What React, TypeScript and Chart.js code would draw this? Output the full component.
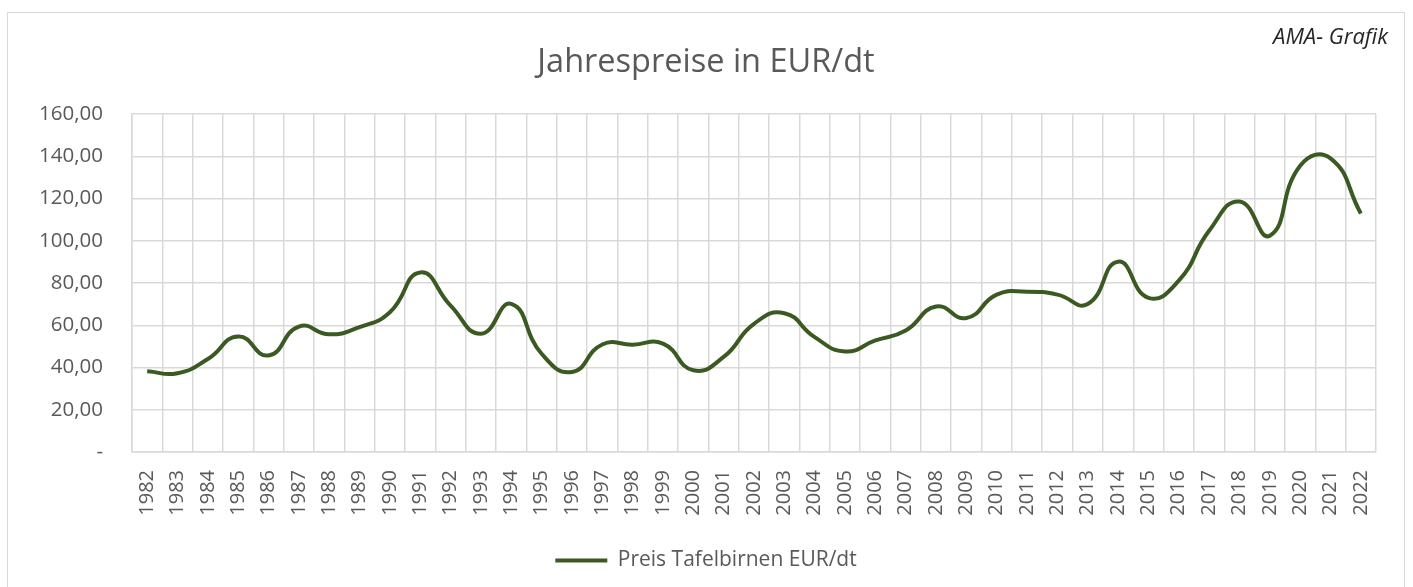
import React, { useEffect, useRef } from "react";
import { Chart, registerables } from "chart.js";

Chart.register(...registerables);

const years: string[] = [
  "1982","1983","1984","1985","1986","1987","1988","1989","1990","1991",
  "1992","1993","1994","1995","1996","1997","1998","1999","2000","2001",
  "2002","2003","2004","2005","2006","2007","2008","2009","2010","2011",
  "2012","2013","2014","2015","2016","2017","2018","2019","2020","2021","2022",
];

const prices: number[] = [
  38.2, 37.3, 44.0, 54.7, 45.7, 59.4, 55.7, 59.1, 66.2, 85.0,
  69.3, 56.0, 70.1, 46.5, 37.9, 50.9, 50.8, 51.3, 38.7, 45.0,
  60.7, 65.7, 54.4, 47.6, 52.8, 57.5, 68.9, 63.4, 74.5, 75.9,
  74.5, 70.1, 90.1, 73.0, 81.1, 104.7, 118.6, 102.4, 135.5, 139.0, 112.9,
];

const seriesName = "Preis Tafelbirnen EUR/dt";
const titleText = "Jahrespreise in EUR/dt";
const sourceText = "AMA- Grafik";

const FONT = "'Open Sans', sans-serif";
const TEXT = "#595959";
const GRID = "#d9d9d9";
const LINE = "#3a5a22";

const sourcePlugin = {
  id: "sourceLabel",
  afterDraw(chart: any) {
    const ctx = chart.ctx;
    ctx.save();
    ctx.font = `italic 22px ${FONT}`;
    ctx.fillStyle = "#262626";
    ctx.textAlign = "right";
    ctx.textBaseline = "middle";
    ctx.fillText(sourceText, chart.width - 16, 25);
    ctx.restore();
  },
};

export default function App() {
  const ref = useRef<HTMLCanvasElement | null>(null);

  useEffect(() => {
    if (!ref.current) return;
    const chart = new Chart(ref.current, {
      type: "line",
      data: {
        labels: years,
        datasets: [
          {
            label: seriesName,
            data: prices,
            borderColor: LINE,
            backgroundColor: LINE,
            borderWidth: 4,
            pointRadius: 0,
            pointHoverRadius: 0,
            tension: 0.5,
            fill: false,
          },
        ],
      },
      options: {
        animation: false,
        responsive: false,
        maintainAspectRatio: false,
        layout: { padding: { left: 0, right: 0, top: 0, bottom: 6 } },
        plugins: {
          tooltip: { enabled: false },
          title: {
            display: true,
            text: titleText,
            color: TEXT,
            font: { family: FONT, size: 32.5, weight: "normal" },
            padding: { top: 30, bottom: 32 },
          },
          legend: {
            display: true,
            position: "bottom",
            labels: {
              usePointStyle: true,
              pointStyle: "line",
              pointStyleWidth: 52,
              color: TEXT,
              font: { family: FONT, size: 21 },
              padding: 10,
            },
          },
        },
        scales: {
          x: {
            offset: true,
            grid: { display: true, offset: true, color: GRID, lineWidth: 1.5, drawTicks: false },
            border: { display: true, color: GRID, width: 1.5 },
            ticks: {
              color: TEXT,
              font: { family: FONT, size: 20 },
              minRotation: 90,
              maxRotation: 90,
              autoSkip: false,
              padding: 18,
            },
            afterFit(scale: any) {
              scale.height = 88;
            },
          },
          y: {
            min: 0,
            max: 160,
            grid: { color: GRID, lineWidth: 1.5, drawTicks: false },
            border: { display: true, color: GRID, width: 1.5 },
            ticks: {
              stepSize: 20,
              color: TEXT,
              font: { family: FONT, size: 20.5 },
              padding: 29,
              callback: (v: any) => (Number(v) === 0 ? "-" : Number(v).toFixed(2).replace(".", ",")),
            },
            afterFit(scale: any) {
              scale.width = 124;
            },
          },
          yRight: {
            position: "right",
            min: 0,
            max: 160,
            grid: { display: false, drawTicks: false },
            border: { display: false },
            ticks: { display: false },
            afterFit(scale: any) {
              scale.width = 28;
            },
          },
        },
      },
      plugins: [sourcePlugin],
    });
    return () => chart.destroy();
  }, []);

  return (
    <div
      style={{
        position: "fixed",
        left: 7,
        top: 12,
        width: 1398,
        height: 600,
        border: "1px solid #d9d9d9",
        boxSizing: "border-box",
        background: "#fff",
      }}
    >
      <canvas ref={ref} width={1396} height={574} style={{ display: "block" }} />
    </div>
  );
}
